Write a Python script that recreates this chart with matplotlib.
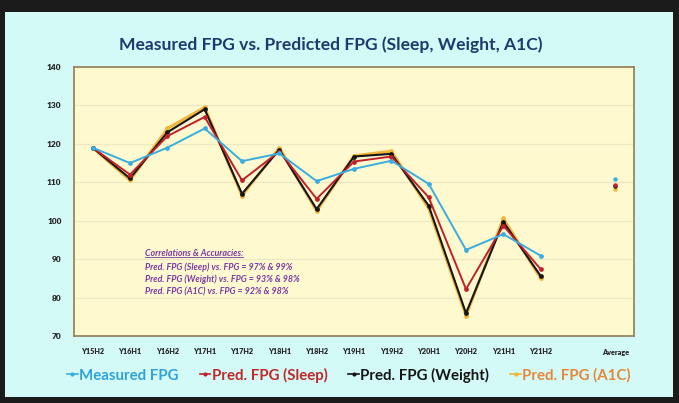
import matplotlib.pyplot as plt
from matplotlib.patches import Rectangle
from matplotlib.lines import Line2D
import numpy as np

plt.rcParams['font.family'] = ['Lato', 'DejaVu Sans']

periods = ['Y15H2', 'Y16H1', 'Y16H2', 'Y17H1', 'Y17H2', 'Y18H1', 'Y18H2',
           'Y19H1', 'Y19H2', 'Y20H1', 'Y20H2', 'Y21H1', 'Y21H2']
avg_label = 'Average'

measured = [119, 115, 119, 124, 115.5, 117.5, 110.3, 113.5, 115.6, 109.6, 92.4, 96.5, 90.9]
sleep = [119, 112, 122, 127, 110.5, 118, 105.7, 115.4, 116.7, 106.1, 82.2, 98.7, 87.4]
weight = [119, 111, 123, 129, 107, 118.5, 103, 116.7, 117.4, 103.9, 75.9, 99.7, 85.6]
a1c = [119, 110.5, 124, 129.5, 106.5, 119, 102.5, 116.9, 118.1, 103.2, 75.3, 100.6, 85.0]
averages = [110.9, 109.3, 109.0, 108.2]   # measured, sleep, weight, a1c

names = ['Measured FPG', 'Pred. FPG (Sleep)', 'Pred. FPG (Weight)', 'Pred. FPG (A1C)']
line_colors = ['#38aee0', '#c0202a', '#151515', '#f0b53a']
text_colors = ['#2fa2dc', '#c0282a', '#151515', '#e6873a']

notes = ['Correlations & Accuracies:',
         'Pred. FPG (Sleep) vs. FPG = 97% & 99%',
         'Pred. FPG (Weight) vs. FPG = 93% & 98%',
         'Pred. FPG (A1C) vs. FPG = 92% & 98%']

fig = plt.figure(figsize=(6.79, 4.03), dpi=100)
fig.patch.set_facecolor('#1b1b1b')
fig.patches.append(Rectangle((5 / 679, 6 / 403), 668 / 679, 385 / 403,
                             transform=fig.transFigure, facecolor='#d3faf7',
                             edgecolor='none', zorder=-5))

ax = fig.add_axes([74 / 679, 67 / 403, 560 / 679, 269 / 403])
ax.set_zorder(2)
ax.set_facecolor('#fff9cf')
for sp in ax.spines.values():
    sp.set_color('#9a8460')
    sp.set_linewidth(1.3)

x = np.arange(len(periods))
x_avg = len(periods) + 1
series = [measured, sleep, weight, a1c]
widths = [1.4, 1.4, 1.5, 2.1]
order = [3, 2, 1, 0]
zs = {3: 2, 2: 3, 1: 4, 0: 5}
for i in order:
    ax.plot(x, series[i], color=line_colors[i], lw=widths[i], marker='o',
            ms=2.4, zorder=zs[i])
for i in order:
    ax.plot([x_avg], [averages[i]], color=line_colors[i], marker='o', ms=2.2,
            ls='none', zorder=zs[i])

ax.set_xlim(-0.5, x_avg + 0.5)
ax.set_ylim(70, 140)
ax.set_yticks(np.arange(70, 141, 10))
ax.grid(axis='y', color='#efe6c4', lw=0.9)
ax.set_axisbelow(True)
ticks = list(x) + [x_avg]
ax.set_xticks(ticks)
ax.set_xticklabels(periods + [avg_label])
ax.tick_params(length=0, labelsize=5.2, pad=9)
ax.tick_params(axis='y', labelsize=6, pad=9)
for lab in ax.get_xticklabels() + ax.get_yticklabels():
    lab.set_fontweight('heavy')
    lab.set_color('#262626')

fig.text(331 / 679, 1 - 45 / 403, 'Measured FPG vs. Predicted FPG (Sleep, Weight, A1C)',
         ha='center', va='center', fontsize=12.6, fontweight='bold', color='#1f3a6e')

note_y = [253, 267, 279.5, 291.5]
note_objs = []
for txt, yy in zip(notes, note_y):
    t = fig.text(145 / 679, 1 - yy / 403, txt, ha='left', va='center', fontsize=6.4,
                 fontweight='bold', style='italic', color='#7a3aa6', zorder=10)
    note_objs.append(t)

# underline the heading
fig.canvas.draw()
bb = note_objs[0].get_window_extent().transformed(fig.transFigure.inverted())
fig.add_artist(Line2D([bb.x0, bb.x1], [bb.y0 + 0.002, bb.y0 + 0.002],
                      transform=fig.transFigure, color='#7a3aa6', lw=0.6, zorder=10))

handles = [Line2D([], [], color=c, lw=1.2, marker='o', ms=2) for c in line_colors]
leg = fig.legend(handles, names, loc='center', bbox_to_anchor=(349 / 679, 1 - 375 / 403),
                 ncol=4, frameon=False, handlelength=0.7, handletextpad=0.1,
                 columnspacing=1.4, prop={'size': 10.8, 'weight': 'bold'},
                 labelcolor=text_colors)

fig.savefig('out.png', dpi=100, facecolor=fig.get_facecolor())
